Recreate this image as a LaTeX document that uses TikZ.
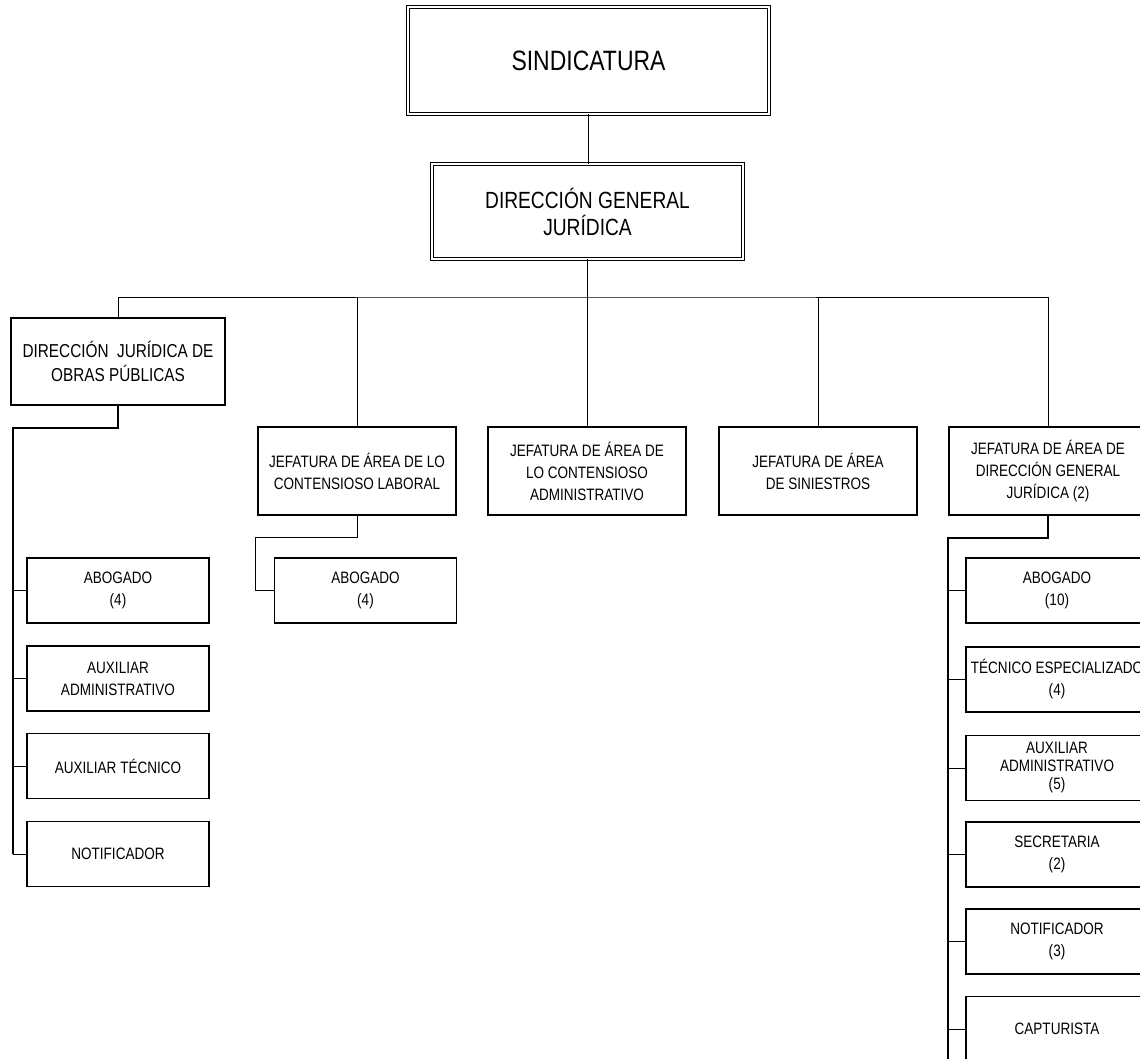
\documentclass[tikz,border=0pt]{standalone}
\usepackage{fontspec}
\setmainfont{Liberation Sans}[FakeStretch=0.82]
\tikzset{
  caja/.style={draw, line width=1.2pt, align=center, inner sep=0pt,
    minimum width=198pt, minimum height=88pt, font=\fontsize{16.5}{22}\selectfont},
  puesto/.style={caja, minimum width=182pt, minimum height=65pt},
  doble/.style={draw, double, double distance=2.4pt, line width=0.9pt,
    align=center, inner sep=0pt},
  liga/.style={line width=1pt},
  tronco/.style={line width=1.8pt},
}
\begin{document}
\begin{tikzpicture}[x=1pt, y=-1pt]
	\useasboundingbox (0,0) rectangle (1140,1059);
	\clip (0,0) rectangle (1140,1059);
	% cabeza
	\node[doble, minimum width=361pt, minimum height=107pt, font=\fontsize{28}{32}\selectfont] (sind) at (588.5,60.5) {SINDICATURA};
	\node[doble, minimum width=311pt, minimum height=95pt, font=\fontsize{23.4}{27}\selectfont] (dgj) at (587.5,211.5) {DIRECCIÓN GENERAL\\ JURÍDICA};
	% direcciones y jefaturas
	\node[caja, minimum width=214pt, minimum height=87pt, font=\fontsize{18.7}{24}\selectfont] (djop) at (118,361.5) {DIRECCIÓN~ JURÍDICA DE\\OBRAS PÚBLICAS};
	\node[caja] (jcl) at (357,471) {JEFATURA DE ÁREA DE LO\\CONTENSIOSO LABORAL};
	\node[caja] (jca) at (587,471) {JEFATURA DE ÁREA DE\\LO CONTENSIOSO\\ADMINISTRATIVO};
	\node[caja] (js) at (818,471) {JEFATURA DE ÁREA\\DE SINIESTROS};
	\node[caja] (jdgj) at (1048,471) {JEFATURA DE ÁREA DE\\DIRECCIÓN GENERAL\\JURÍDICA (2)};
	% puestos obras publicas
	\node[puesto] (p1) at (118,590.5) {ABOGADO\\(4)};
	\node[puesto] (p2) at (118,678.5) {AUXILIAR\\ADMINISTRATIVO};
	\node[puesto] (p3) at (118,766) {AUXILIAR TÉCNICO};
	\node[puesto] (p4) at (118,854) {NOTIFICADOR};
	% puestos laboral
	\node[puesto] (q1) at (365.5,590.5) {ABOGADO\\(4)};
	% puestos direccion general
	\node[puesto] (r1) at (1057,590.5) {ABOGADO\\(10)};
	\node[puesto] (r2) at (1057,679.5) {TÉCNICO ESPECIALIZADO\\(4)};
	\node[puesto, font=\fontsize{16.5}{18}\selectfont] (r3) at (1057,768) {AUXILIAR\\ADMINISTRATIVO\\(5)};
	\node[puesto] (r4) at (1057,854.5) {SECRETARIA\\(2)};
	\node[puesto] (r5) at (1057,941.5) {NOTIFICADOR\\(3)};
	\node[puesto] (r6) at (1057,1029) {CAPTURISTA};
	% lineas
	\coordinate (bus) at (588,297);
	\coordinate (izq) at (13,428);
	\coordinate (med) at (255,537);
	\coordinate (der) at (948,538);
	\draw[liga] (sind.south) -- (sind.south |- dgj.north);
	\draw[tronco] (dgj.south) -- (dgj.south |- bus);
	\draw[liga] (djop.north) |- (bus) -| (jdgj.north);
	\foreach \n in {jcl,jca,js}
		\draw[liga] (\n.north) -- (\n.north |- bus);
	\draw[tronco] (djop.south) |- (izq) -- (izq |- p4.west);
	\foreach \n in {p1,p2,p3,p4}
		\draw[liga] (izq |- \n.west) -- (\n.west);
	\draw[liga] (jcl.south) |- (med) |- (q1.west);
	\draw[tronco] (jdgj.south) |- (der) -- (der |- r6.south);
	\foreach \n in {r1,r2,r3,r4,r5,r6}
		\draw[liga] (der |- \n.west) -- (\n.west);
\end{tikzpicture}
\end{document}
